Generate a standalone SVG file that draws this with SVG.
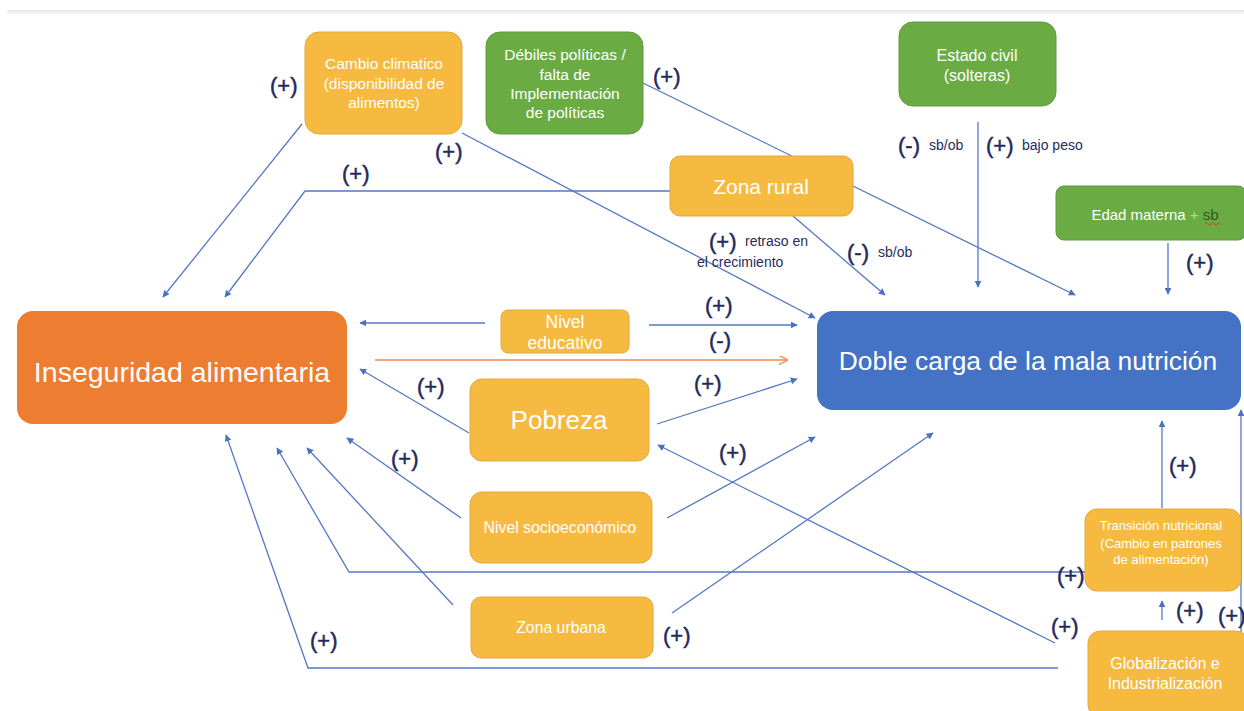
<svg xmlns="http://www.w3.org/2000/svg" width="1244" height="711" viewBox="0 0 1244 711">
<defs>
<marker id="ah" viewBox="0 0 10 10" refX="9" refY="5" markerWidth="7" markerHeight="7" markerUnits="userSpaceOnUse" orient="auto">
<path d="M0,0 L10,5 L0,10 z" fill="#4A72C2"/>
</marker>
<marker id="ao" viewBox="0 0 10 10" refX="9" refY="5" markerWidth="9" markerHeight="9" markerUnits="userSpaceOnUse" orient="auto">
<path d="M0,0 L10,5 L0,10" fill="none" stroke="#F08A4B" stroke-width="1.5"/>
</marker>
<linearGradient id="sh" x1="0" y1="0" x2="0" y2="1">
<stop offset="0" stop-color="#E4E4E4"/>
<stop offset="1" stop-color="#FFFFFF"/>
</linearGradient>
</defs>
<style>
.o{fill:#F6BA41;stroke:#E3A83A;stroke-width:1}
.g{fill:#6AAB44;stroke:#5E9A3C;stroke-width:1}
.t{font-family:"Liberation Sans",Arial,sans-serif;fill:#FFFFFF;text-anchor:middle}
.c{fill:none;stroke:#5478C4;stroke-width:1.3;marker-end:url(#ah)}
.l{font-family:"Liberation Sans",Arial,sans-serif;fill:#1F2B5E;font-size:22px;stroke:#1F2B5E;stroke-width:0.5}
.s{font-family:"Liberation Sans",Arial,sans-serif;fill:#1F2B5E;font-size:14px}
</style>
<rect x="0" y="0" width="1244" height="711" fill="#FFFFFF"/>
<rect x="7" y="10" width="1237" height="5" fill="url(#sh)"/>

<g id="connectors">
<line class="c" x1="302" y1="124" x2="163" y2="297"/>
<line class="c" x1="462" y1="133" x2="815" y2="318"/>
<polyline class="c" points="670,191 305,191 225,297"/>
<line class="c" x1="793" y1="216" x2="885" y2="295"/>
<line class="c" x1="643" y1="83" x2="1075" y2="295"/>
<line class="c" x1="978" y1="122" x2="978" y2="287"/>
<line class="c" x1="1168" y1="243" x2="1168" y2="294"/>
<line class="c" x1="485" y1="323" x2="360" y2="323"/>
<line class="c" x1="649" y1="325" x2="797" y2="325"/>
<line x1="375" y1="360" x2="787" y2="360" fill="none" stroke="#F08A4B" stroke-width="1.3" marker-end="url(#ao)"/>
<line class="c" x1="469" y1="433" x2="360" y2="369"/>
<line class="c" x1="657" y1="424" x2="797" y2="379"/>
<line class="c" x1="461" y1="518" x2="347" y2="438"/>
<line class="c" x1="453" y1="605" x2="307" y2="448"/>
<polyline class="c" points="1085,572 349,572 277,448"/>
<polyline class="c" points="1058,668 308,668 226,435"/>
<line class="c" x1="667" y1="518" x2="815" y2="437"/>
<line class="c" x1="672" y1="613" x2="933" y2="433"/>
<line class="c" x1="1055" y1="643" x2="658" y2="445"/>
<line class="c" x1="1162" y1="508" x2="1162" y2="421"/>
<line class="c" x1="1162" y1="620" x2="1162" y2="601"/>
<line class="c" x1="1241" y1="632" x2="1241" y2="410"/>
</g>

<g id="n-cambio">
<rect class="o" x="305" y="32" width="157" height="102" rx="14"/>
<text class="t" font-size="15.5"><tspan x="384" y="69">Cambio climatico</tspan><tspan x="384" y="89">(disponibilidad de</tspan><tspan x="384" y="108">alimentos)</tspan></text>
</g>
<g id="n-debiles">
<rect class="g" x="486" y="32" width="157" height="102" rx="14"/>
<text class="t" font-size="15.5"><tspan x="565" y="60">Débiles políticas /</tspan><tspan x="565" y="80">falta de</tspan><tspan x="565" y="99">Implementación</tspan><tspan x="565" y="118">de políticas</tspan></text>
</g>
<g id="n-estado">
<rect class="g" x="899" y="22" width="157" height="84" rx="14"/>
<text class="t" font-size="16"><tspan x="977" y="61">Estado civil</tspan><tspan x="977" y="81">(solteras)</tspan></text>
</g>
<g id="n-zonarural">
<rect class="o" x="670" y="156" width="183" height="60" rx="10"/>
<text class="t" font-size="21" x="761" y="194">Zona rural</text>
</g>
<g id="n-edad">
<rect class="g" x="1056" y="186" width="190" height="54" rx="8"/>
<text class="t" font-size="15" x="1155" y="220">Edad materna <tspan fill="#A8E07A">+</tspan> <tspan fill="#2F5C1F">sb</tspan></text>
<path d="M1205,224 q1.5,-2 3,0 t3,0 t3,0 t3,0 t3,0" fill="none" stroke="#D33" stroke-width="0.8"/>
</g>
<g id="n-inseguridad">
<rect x="17" y="311" width="330" height="113" rx="16" fill="#ED7D31"/>
<text class="t" font-size="28.5" x="182" y="382">Inseguridad alimentaria</text>
</g>
<g id="n-educativo">
<rect class="o" x="501" y="310" width="128" height="43" rx="7"/>
<text class="t" font-size="17.5"><tspan x="565" y="328">Nivel</tspan><tspan x="565" y="349">educativo</tspan></text>
</g>
<g id="n-doble">
<rect x="817" y="311" width="424" height="99" rx="16" fill="#4472C4"/>
<text class="t" font-size="26.4" x="1028" y="370">Doble carga de la mala nutrición</text>
</g>
<g id="n-pobreza">
<rect class="o" x="470" y="379" width="179" height="82" rx="12"/>
<text class="t" font-size="26" x="559" y="429">Pobreza</text>
</g>
<g id="n-socio">
<rect class="o" x="470" y="492" width="182" height="71" rx="12"/>
<text class="t" font-size="15.8" x="560" y="533">Nivel socioeconómico</text>
</g>
<g id="n-urbana">
<rect class="o" x="471" y="597" width="182" height="61" rx="10"/>
<text class="t" font-size="15.8" x="561" y="633">Zona urbana</text>
</g>
<g id="n-transicion">
<rect class="o" x="1085" y="509" width="156" height="82" rx="12"/>
<text class="t" font-size="13"><tspan x="1161" y="530">Transición nutricional</tspan><tspan x="1161" y="548">(Cambio en patrones</tspan><tspan x="1161" y="564">de alimentación)</tspan></text>
</g>
<g id="n-global">
<rect class="o" x="1088" y="631" width="160" height="86" rx="12"/>
<text class="t" font-size="16"><tspan x="1165" y="669">Globalización e</tspan><tspan x="1165" y="689">Industrialización</tspan></text>
</g>

<g id="labels">
<text class="l" x="270" y="93">(+)</text>
<text class="l" x="435" y="159">(+)</text>
<text class="l" x="653" y="84">(+)</text>
<text class="l" x="342" y="181">(+)</text>
<text class="l" x="898" y="153">(-)</text>
<text class="s" x="929" y="150">sb/ob</text>
<text class="l" x="986" y="153">(+)</text>
<text class="s" x="1022" y="150">bajo peso</text>
<text class="l" x="709" y="249">(+)</text>
<text class="s" x="745" y="246">retraso en</text>
<text class="s" x="697" y="267">el crecimiento</text>
<text class="l" x="847" y="260">(-)</text>
<text class="s" x="878" y="257">sb/ob</text>
<text class="l" x="1186" y="270">(+)</text>
<text class="l" x="705" y="313">(+)</text>
<text class="l" x="709" y="348">(-)</text>
<text class="l" x="417" y="394">(+)</text>
<text class="l" x="694" y="391">(+)</text>
<text class="l" x="391" y="466">(+)</text>
<text class="l" x="719" y="460">(+)</text>
<text class="l" x="663" y="643">(+)</text>
<text class="l" x="310" y="648">(+)</text>
<text class="l" x="1057" y="583">(+)</text>
<text class="l" x="1051" y="634">(+)</text>
<text class="l" x="1169" y="473">(+)</text>
<text class="l" x="1176" y="618">(+)</text>
<text class="l" x="1218" y="623">(+)</text>
</g>
</svg>
